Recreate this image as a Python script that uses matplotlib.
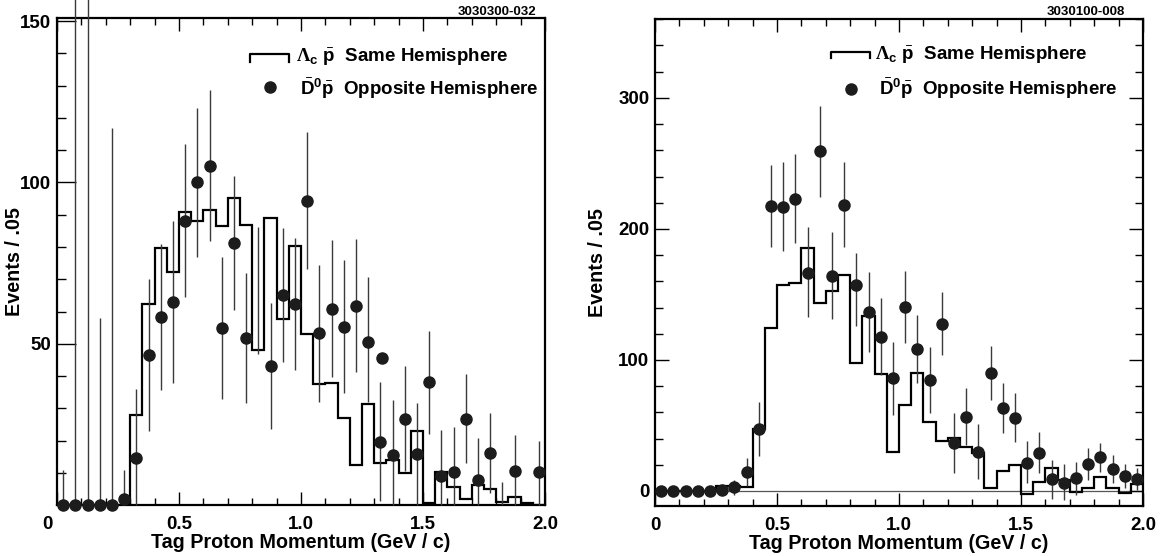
import numpy as np
import matplotlib
matplotlib.use('Agg')
import matplotlib.pyplot as plt
from matplotlib.ticker import MultipleLocator
from matplotlib.transforms import ScaledTranslation

plt.rcParams['font.family'] = ['Liberation Sans', 'DejaVu Sans']
plt.rcParams['font.weight'] = 'bold'
plt.rcParams['mathtext.fontset'] = 'custom'
plt.rcParams['mathtext.rm'] = 'Liberation Serif'
plt.rcParams['mathtext.bf'] = 'Liberation Sans:bold'
plt.rcParams['mathtext.it'] = 'Liberation Sans:bold'

bin_edges = np.round(np.arange(0, 2.0001, 0.05), 2)

# left panel: 3030300-032
left_hist = [0, 0, 0, 0, 0, 0, 27.8, 62.3, 79.6, 72.1,
             91.0, 88.2, 91.6, 86.5, 95.3, 86.9, 48.1, 88.9, 57.7, 80.2,
             53.0, 37.5, 37.8, 26.9, 12.3, 31.3, 13.1, 13.9, 10.0, 23.0,
             0.5, 10.2, 5.6, 1.8, 6.1, 4.9, 0.9, 2.6, 0.7, 0]

left_x = [0.025, 0.075, 0.125, 0.175, 0.225, 0.275, 0.325, 0.375, 0.425, 0.475,
          0.525, 0.575, 0.625, 0.675, 0.725, 0.775, 0.875, 0.925, 0.975,
          1.025, 1.075, 1.125, 1.175, 1.225, 1.275, 1.325, 1.375, 1.425, 1.475,
          1.525, 1.575, 1.625, 1.675, 1.725, 1.775, 1.875, 1.975]
left_y = [0, 0, 0, 0, 0, 2.0, 14.7, 46.5, 58.2, 62.8,
          88.2, 100.1, 105.0, 54.9, 81.3, 51.8, 43.0, 65.2, 62.3,
          94.4, 53.2, 60.8, 55.3, 61.8, 50.4, 19.6, 15.4, 26.6, 15.7,
          38.0, 9.0, 10.2, 26.8, 7.8, 16.2, 10.6, 10.2]
left_lo = [0, 0, 0, 0, 0, 0, 0, 23.0, 35.7, 37.9,
           64.4, 77.0, 81.8, 33.0, 60.6, 31.5, 23.5, 44.2, 41.8,
           73.3, 31.8, 39.8, 34.6, 41.1, 31.8, 1.2, 0, 10.6, 0,
           22.0, 0, 0, 13.0, 0, 3.8, 0, 0]
left_hi = [11, 200, 200, 58, 117, 11, 36, 70, 81, 88,
           111.8, 123, 128.6, 76.8, 102, 71.8, 62.7, 85.9, 82.8,
           115.6, 74.5, 82.3, 76, 82.5, 70.6, 38, 32.5, 43.2, 31.5,
           54, 23.3, 24.3, 40.6, 20.7, 28.4, 21.6, 19.9]
# error bars drawn without a marker
left_bare_x = [0.825, 1.825]
left_bare_lo = [46.8, 0]
left_bare_hi = [86.3, 7.2]
# single extra marker without error bar
left_extra_x = [1.333]
left_extra_y = [45.6]

# right panel: 3030100-008
right_hist = [0, 0, 0, 0, 0, 3.8, 3.8, 3.0, 47.0, 124.2,
              157.3, 159.0, 185.2, 143.3, 152.7, 164.9, 97.5, 133.8, 89.3, 30.0,
              65.6, 90.3, 52.9, 38.2, 40.2, 33.8, 29.2, 2.0, 15.3, 19.8,
              -2.5, 7.1, 17.3, 8.4, -0.5, 2.0, 10.4, 2.0, -1.8, 5.1]

right_x = [0.025, 0.075, 0.125, 0.175, 0.225, 0.275, 0.325, 0.375, 0.425, 0.475,
           0.525, 0.575, 0.625, 0.675, 0.725, 0.775, 0.825, 0.875, 0.925, 0.975,
           1.025, 1.075, 1.125, 1.175, 1.225, 1.275, 1.325, 1.375, 1.425, 1.475,
           1.525, 1.575, 1.625, 1.675, 1.725, 1.775, 1.825, 1.875, 1.925, 1.975]
right_y = [0, 0, 0, 0, 0, 0.8, 3.3, 14.8, 47.0, 217.8,
           217.0, 222.9, 166.7, 259.5, 164.1, 218.3, 157.3, 136.9, 117.8, 86.0,
           140.2, 108.2, 84.7, 127.5, 36.4, 56.7, 30.0, 89.8, 63.1, 56.0,
           21.6, 29.2, 8.9, 6.4, 9.7, 20.6, 25.7, 16.5, 11.5, 8.9]
right_lo = [0, 0, 0, 0, 0, 0.8, -3.0, 3.8, 27.0, 186.0,
            183.4, 189.1, 133.0, 224.7, 131.0, 186.5, 126.0, 106.3, 88.5, 58.0,
            113.2, 82.2, 59.8, 103.8, 13.5, 35.1, 8.9, 69.5, 44.0, 37.6,
            5.9, 13.5, -6.3, -6.9, -3.0, 8.4, 14.7, 6.4, 2.0, 0.8]
right_hi = [0, 0, 0, 0, 0, 0.8, 8.4, 25.4, 68.2, 248.9,
            250.9, 257.0, 201.8, 293.9, 197.5, 250.9, 182.0, 167.4, 147.1, 114.0,
            168.0, 134.4, 109.7, 152.1, 59.8, 78.4, 50.9, 110.7, 82.2, 74.6,
            38.2, 45.3, 23.7, 20.4, 22.4, 32.6, 36.9, 27.5, 20.6, 17.3]

dot_color = '#1c1c1c'
bar_color = '#3a3a3a'

fig = plt.figure(figsize=(11.62, 5.56), dpi=100)
ax1 = fig.add_axes([0.0491, 0.0917, 0.4200, 0.8759])
ax2 = fig.add_axes([0.5637, 0.0899, 0.4200, 0.8754])


def draw_panel(ax, hist, x, y, lo, hi):
    ax.stairs(hist, bin_edges, baseline=None, color='black', lw=1.6, zorder=2)
    yerr = [np.array(y) - np.array(lo), np.array(hi) - np.array(y)]
    ax.errorbar(x, y, yerr=yerr, fmt='o', ms=8, color=dot_color, ecolor=bar_color,
                elinewidth=1.0, capsize=0, zorder=3, clip_on=False)


draw_panel(ax1, left_hist, left_x, left_y, left_lo, left_hi)
bare_mid = (np.array(left_bare_lo) + np.array(left_bare_hi)) / 2
ax1.errorbar(left_bare_x, bare_mid,
             yerr=[bare_mid - np.array(left_bare_lo), np.array(left_bare_hi) - bare_mid],
             fmt='none', ecolor=bar_color, elinewidth=1.0, zorder=3)
ax1.plot(left_extra_x, left_extra_y, 'o', ms=8, color=dot_color, zorder=3)

draw_panel(ax2, right_hist, right_x, right_y, right_lo, right_hi)
ax2.axhline(0, color='#555555', lw=0.9, zorder=1)

ax1.set_xlim(0, 2.0)
ax1.set_ylim(0, 151)
ax2.set_xlim(0, 2.0)
ax2.set_ylim(-11.5, 360)

for ax in (ax1, ax2):
    ax.xaxis.set_minor_locator(MultipleLocator(0.1))
    ax.set_xticks([0, 0.5, 1.0, 1.5, 2.0])
    ax.set_xticklabels(['0', '0.5', '1.0', '1.5', '2.0'])
    for s in ax.spines.values():
        s.set_linewidth(1.6)
    ax.tick_params(axis='x', which='both', direction='in', top=True, pad=8,
                   labelsize=13.5, width=1.0)
    ax.tick_params(axis='x', which='major', length=9.5)
    ax.tick_params(axis='x', which='minor', length=5)
    ax.set_xlabel('Tag Proton Momentum (GeV / c)', fontsize=14.2, fontweight='bold')
    ax.xaxis.set_label_coords(0.5, -0.058)
    ax.xaxis.label.set_va('top')
    ax.set_ylabel('Events / .05', fontsize=14.2, fontweight='bold')

ax1.set_yticks([0, 50, 100, 150])
ax1.set_yticklabels(['', '50', '100', '150'])
ax1.yaxis.set_minor_locator(MultipleLocator(10))
ax1.tick_params(axis='y', which='both', direction='in', pad=4, labelsize=13.5, width=1.0)
ax1.tick_params(axis='y', which='major', length=13.5)
ax1.tick_params(axis='y', which='minor', length=6.5)
ax1.yaxis.set_label_coords(-0.068, 0.5)
# the "0" under the left panel sits a little left of the axis corner
lbl0 = ax1.get_xticklabels()[0]
lbl0.set_transform(lbl0.get_transform() + ScaledTranslation(-0.10, 0, fig.dpi_scale_trans))

ax2.set_yticks([0, 100, 200, 300])
ax2.yaxis.set_minor_locator(MultipleLocator(20))
ax2.tick_params(axis='y', which='both', direction='in', right=True, pad=4,
                labelsize=13.5, width=1.0)
ax2.tick_params(axis='y', which='major', length=10)
ax2.tick_params(axis='y', which='minor', length=5.5)
ax2.yaxis.set_label_coords(-0.098, 0.5)

# run numbers
fig.text(536 / 1162, 1 - 12 / 556, '3030300-032', ha='right', va='center',
         fontsize=9.5, fontweight='bold')
fig.text(1125 / 1162, 1 - 12 / 556, '3030100-008', ha='right', va='center',
         fontsize=9.5, fontweight='bold')

# legends
lam_text = r'$\Lambda_{\mathbf{c}}\ \bar{\mathbf{p}}$  Same Hemisphere'
d0_text = r'$\bar{\mathbf{D}}^{\mathbf{0}}\bar{\mathbf{p}}$  Opposite Hemisphere'


def draw_legend(ax, x0, x1, y_top, y_tick, dot_x, dot_y, tx1, ty1, tx2, ty2):
    tr = ax.transAxes
    ax.plot([x0, x0, x1, x1], [y_tick, y_top, y_top, y_tick], color='black',
            lw=1.6, transform=tr, clip_on=False)
    ax.plot([dot_x], [dot_y], 'o', ms=8, color=dot_color, transform=tr, clip_on=False)
    ax.text(tx1, ty1, lam_text, transform=tr, ha='left', va='center',
            fontsize=13.5, fontweight='bold')
    ax.text(tx2, ty2, d0_text, transform=tr, ha='left', va='center',
            fontsize=13.5, fontweight='bold')


def ax_coords(px, py, left, right, top, bottom):
    return (px - left) / (right - left), (bottom - py) / (bottom - top)


L = (57, 545, 18, 505)
x0, yt = ax_coords(250, 54.3, *L)
x1, yk = ax_coords(289.3, 61.7, *L)
dx, dy = ax_coords(270, 87.3, *L)
t1x, t1y = ax_coords(296, 57, *L)
t2x, t2y = ax_coords(300, 89, *L)
draw_legend(ax1, x0, x1, yt, yk, dx, dy, t1x, t1y, t2x, t2y)

R = (655, 1143, 19.3, 506)
x0, yt = ax_coords(830.7, 51.7, *R)
x1, yk = ax_coords(870, 58.3, *R)
dx, dy = ax_coords(850.7, 89.3, *R)
t1x, t1y = ax_coords(875, 55, *R)
t2x, t2y = ax_coords(879, 89, *R)
draw_legend(ax2, x0, x1, yt, yk, dx, dy, t1x, t1y, t2x, t2y)

fig.savefig('out.png', dpi=100)
